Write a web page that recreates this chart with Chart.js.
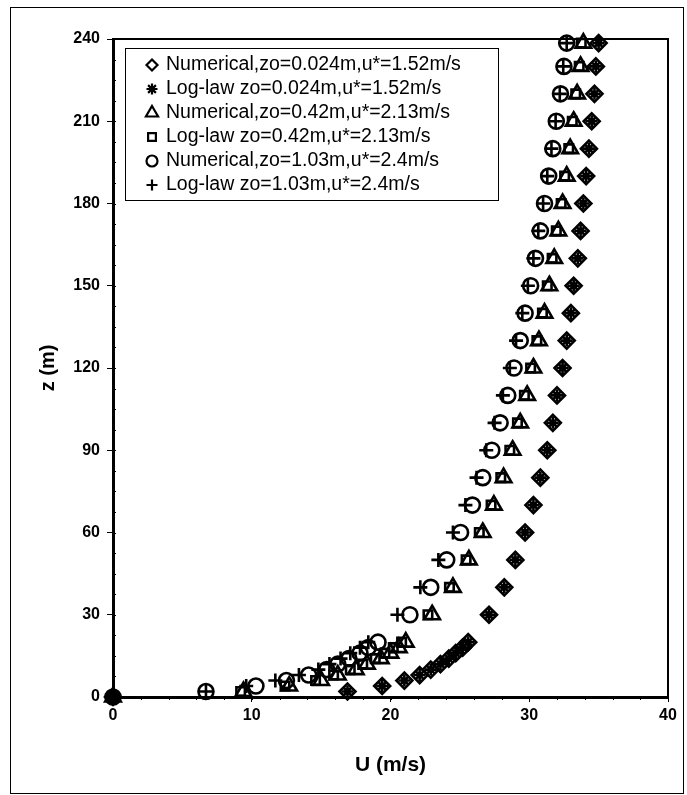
<!DOCTYPE html>
<html>
<head>
<meta charset="utf-8">
<script src="https://cdn.jsdelivr.net/npm/chart.js@4.4.0/dist/chart.umd.min.js"></script>
<style>
  html, body { margin: 0; padding: 0; background: #fff; }
  #wrap { width: 687px; height: 795px; }
</style>
</head>
<body>
<div id="wrap"><canvas id="c"></canvas></div>
<script>
// heights (m) shared by all six profiles
const heights = [0, 2, 4, 6, 8, 10, 12, 14, 16, 18, 20,
  30, 40, 50, 60, 70, 80, 90, 100, 110, 120, 130, 140, 150, 160, 170, 180, 190, 200, 210, 220, 230, 238.5]

// wind speed U (m/s) at each height
const numZo0024 = [0, 16.9, 19.4, 21.0, 22.1, 22.9, 23.6, 24.2, 24.7, 25.2, 25.6,
  27.1, 28.2, 29.0, 29.7, 30.3, 30.8, 31.3, 31.7, 32.0, 32.4, 32.7, 33.0, 33.2, 33.5, 33.7, 33.9, 34.1, 34.3, 34.5, 34.7, 34.8, 35.0]
const logZo0024 = [0, 16.9, 19.4, 21.0, 22.1, 22.9, 23.6, 24.2, 24.7, 25.2, 25.6,
  27.1, 28.2, 29.0, 29.7, 30.3, 30.8, 31.3, 31.7, 32.0, 32.4, 32.7, 33.0, 33.2, 33.5, 33.7, 33.9, 34.1, 34.3, 34.5, 34.7, 34.8, 35.0]
const numZo042 = [0, 9.4, 12.7, 15.0, 16.2, 17.5, 18.3, 19.3, 20.0, 20.6, 21.1,
  23.0, 24.5, 25.65, 26.65, 27.45, 28.15, 28.8, 29.35, 29.85, 30.3, 30.7, 31.1, 31.45, 31.8, 32.1, 32.4, 32.7, 32.95, 33.2, 33.45, 33.7, 33.9]
const logZo042 = [0, 9.2, 12.4, 14.6, 15.9, 17.1, 18.0, 18.9, 19.6, 20.2, 20.8,
  22.7, 24.25, 25.45, 26.4, 27.25, 27.95, 28.6, 29.15, 29.65, 30.1, 30.55, 30.95, 31.3, 31.65, 31.95, 32.3, 32.55, 32.85, 33.1, 33.35, 33.6, 33.75]
const numZo103 = [0, 6.7, 10.3, 12.5, 14.1, 15.4, 16.2, 17.0, 17.8, 18.4, 19.1,
  21.4, 22.9, 24.05, 25.05, 25.9, 26.65, 27.3, 27.9, 28.45, 28.9, 29.35, 29.7, 30.1, 30.45, 30.8, 31.1, 31.4, 31.7, 31.95, 32.25, 32.5, 32.7]
const logZo103 = [0, 6.7, 9.6, 11.7, 13.4, 14.8, 15.6, 16.4, 17.1, 17.8, 18.4,
  20.5, 22.15, 23.45, 24.5, 25.4, 26.2, 26.9, 27.5, 28.1, 28.6, 29.05, 29.5, 29.9, 30.3, 30.65, 31.0, 31.3, 31.6, 31.9, 32.2, 32.45, 32.7]

const labels = [
  'Numerical,zo=0.024m,u*=1.52m/s',
  'Log-law zo=0.024m,u*=1.52m/s',
  'Numerical,zo=0.42m,u*=2.13m/s',
  'Log-law zo=0.42m,u*=2.13m/s',
  'Numerical,zo=1.03m,u*=2.4m/s',
  'Log-law zo=1.03m,u*=2.4m/s'
]

const xTicks = [0, 10, 20, 30, 40]
const yTicks = [0, 30, 60, 90, 120, 150, 180, 210, 240]

const ink = '#000'
const face = "'Liberation Sans', Arial, Helvetica, sans-serif"

function profile(label, speeds, style, radius) {
  return {
    label: label,
    data: speeds.map((u, i) => ({ x: u, y: heights[i] })),
    pointStyle: style,
    pointRadius: radius,
    pointHoverRadius: radius,
    pointBorderWidth: 2.6,
    borderColor: ink,
    backgroundColor: 'rgba(0,0,0,0)',
    showLine: false,
    clip: false
  }
}

// plot frame (top/right edges), minor ticks and the outer page border
const frame = {
  id: 'frame',
  beforeDatasetsDraw(chart) {
    const { ctx, chartArea: a, scales: { x, y } } = chart
    ctx.save()
    ctx.strokeStyle = ink
    ctx.lineWidth = 2
    ctx.beginPath()
    ctx.moveTo(a.left, a.top)
    ctx.lineTo(a.right, a.top)
    ctx.lineTo(a.right, a.bottom)
    ctx.stroke()

    ctx.lineWidth = 1
    ctx.beginPath()
    for (let v = 2; v < 40; v += 2) {
      const px = Math.round(x.getPixelForValue(v)) + 0.5
      ctx.moveTo(px, a.bottom)
      ctx.lineTo(px, a.bottom + 3)
    }
    for (let v = 7.5; v < 240; v += 7.5) {
      const py = Math.round(y.getPixelForValue(v)) + 0.5
      ctx.moveTo(a.left, py)
      ctx.lineTo(a.left + 3, py)
    }
    ctx.stroke()

    ctx.strokeRect(10.5, 7.5, 673, 786)
    ctx.restore()
  }
}

// boxed legend in the upper left of the plot
const legendBox = {
  id: 'legendBox',
  afterDraw(chart) {
    const { ctx } = chart
    const left = 125, top = 48, width = 373, height = 152
    ctx.save()
    ctx.fillStyle = '#fff'
    ctx.fillRect(left, top, width, height)
    ctx.strokeStyle = ink
    ctx.lineWidth = 1
    ctx.strokeRect(left + 0.5, top + 0.5, width, height)
    ctx.font = '19.5px ' + face
    ctx.textBaseline = 'middle'
    chart.data.datasets.forEach((ds, i) => {
      const cy = top + 16 + i * 24
      ctx.fillStyle = 'rgba(0,0,0,0)'
      ctx.lineWidth = 2.2
      Chart.helpers.drawPoint(ctx, { pointStyle: ds.pointStyle, radius: ds.pointStyle === 'triangle' ? 7 : 5.5, borderWidth: 2.2, rotation: 0 }, 152, cy + 1)
      ctx.fillStyle = ink
      ctx.fillText(ds.label, 166, cy + 1)
    })
    ctx.restore()
  }
}

new Chart(document.getElementById('c'), {
  type: 'scatter',
  data: {
    datasets: [
      profile(labels[0], numZo0024, 'rectRot', 8),
      profile(labels[1], logZo0024, 'star', 6),
      profile(labels[2], numZo042, 'triangle', 9),
      profile(labels[3], logZo042, 'rect', 6),
      profile(labels[4], numZo103, 'circle', 7.5),
      profile(labels[5], logZo103, 'cross', 7)
    ]
  },
  options: {
    responsive: true,
    maintainAspectRatio: false,
    animation: false,
    events: [],
    layout: { padding: { left: 0, top: 39, right: 19, bottom: 0 } },
    plugins: { legend: { display: false }, tooltip: { enabled: false } },
    scales: {
      x: {
        type: 'linear',
        min: 0,
        max: 40,
        afterBuildTicks: s => { s.ticks = xTicks.map(v => ({ value: v })) },
        afterFit: s => { s.height = 98 },
        ticks: { color: ink, padding: 4, font: { family: face, size: 16, weight: 'bold' } },
        grid: { drawOnChartArea: false, drawTicks: true, tickLength: 5, color: ink, lineWidth: 1 },
        border: { display: true, color: ink, width: 3 },
        title: {
          display: true,
          text: 'U (m/s)',
          color: ink,
          font: { family: face, size: 21, weight: 'bold' },
          padding: { top: 0, bottom: 17 }
        }
      },
      y: {
        type: 'linear',
        min: 0,
        max: 240,
        afterBuildTicks: s => { s.ticks = yTicks.map(v => ({ value: v })) },
        afterFit: s => { s.width = 113 },
        ticks: { color: ink, padding: 7, font: { family: face, size: 16, weight: 'bold' } },
        grid: { drawOnChartArea: false, drawTicks: true, tickLength: 6, color: ink, lineWidth: 1 },
        border: { display: true, color: ink, width: 3 },
        title: {
          display: true,
          text: 'z (m)',
          color: ink,
          font: { family: face, size: 20, weight: 'bold' },
          padding: { top: 36, bottom: 0 }
        }
      }
    }
  },
  plugins: [frame, legendBox]
})
</script>
</body>
</html>
